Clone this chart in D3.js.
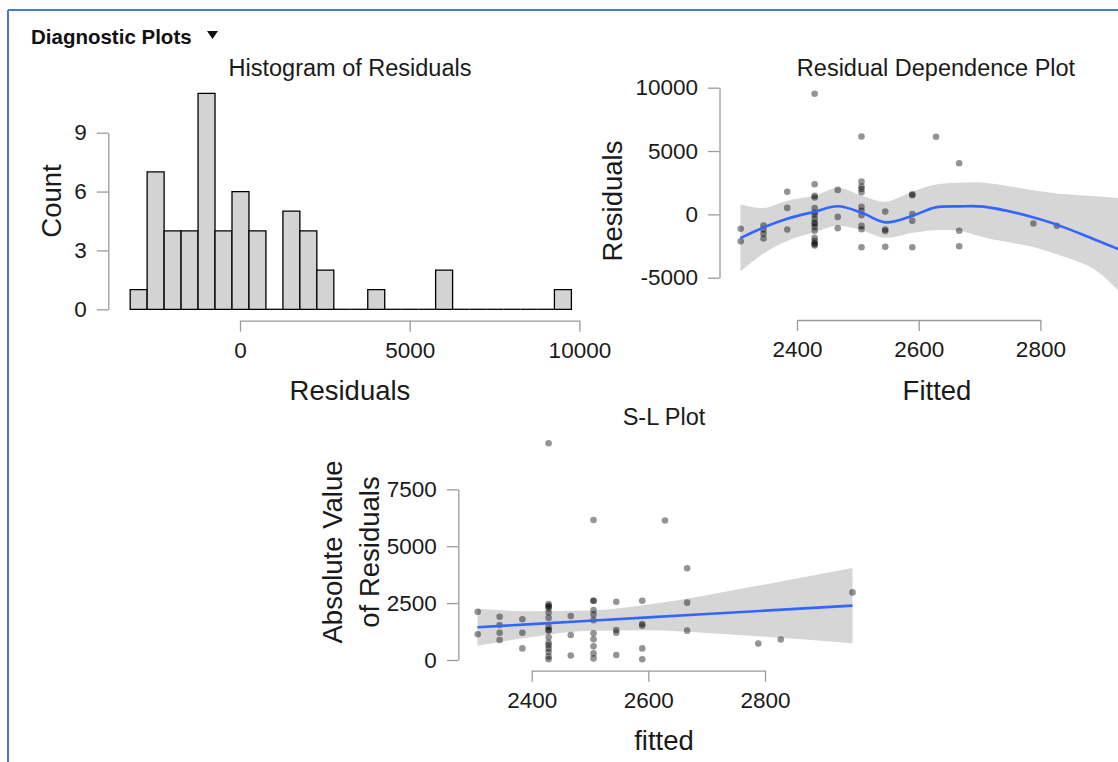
<!DOCTYPE html>
<html><head><meta charset="utf-8">
<script src="https://cdn.jsdelivr.net/npm/d3@7"></script>
<style>
body{margin:0;background:#fff;}
svg{display:block;font-family:"Liberation Sans",Arial,sans-serif;}
</style>
</head><body>
<svg id="chart" width="1118" height="762"></svg>
<script>
// ---------- DATA ----------
const headerText = "Diagnostic Plots";
const histTitle = "Histogram of Residuals";
const rdpTitle = "Residual Dependence Plot";
const slTitle = "S-L Plot";

// histogram (bins of width 500 starting at -3236)
const histBinStart = -3236;
const histBinWidth = 500;
const histCounts = [1,7,4,4,11,4,6,4,0,5,4,2,0,0,1,0,0,0,2,0,0,0,0,0,0,1];
const histXTicks = [0, 5000, 10000];
const histYTicks = [0, 3, 6, 9];

// points: fitted value and residual
const fittedValues = [
  2307.5,2307.5,
  2345,2345,2345,2345,
  2384,2384,2384,
  2429,2429,2429,2429,2429,2429,2429,2429,2429,2429,2429,2429,2429,2429,2429,2429,2429,
  2467,2467,2467,
  2506,2506,2506,2506,2506,2506,2506,2506,2506,2506,2506,
  2545,2545,2545,2545,
  2589.5,2589.5,2589.5,2589.5,2589.5,
  2628.5,
  2666.5,2666.5,2666.5,
  2788.5,
  2827,
  2950
];
const residualValues = [
  -2120,-1130,
  -880,-1200,-1540,-1900,
  1790,510,-1200,
  9520,2380,1460,1330,500,150,-30,-350,-650,-760,-1000,-1290,-1850,-2090,-2270,-2350,-2460,
  1930,-1100,-200,
  6150,2600,-2600,2200,2000,1750,600,290,-70,-910,-1170,
  -2560,-1320,-1200,220,
  1580,1510,-2600,-510,30,
  6130,
  4030,-1290,-2520,
  -720,
  -900,
  -2970
];

// residual dependence: loess smooth and its band
const rdpSmoothX  = [2307,2345,2384,2429,2467,2506,2545,2590,2628,2667,2706,2789,2827,2887,2928,2950];
const rdpSmoothY  = [-1870,-1030,-340,210,640,140,-630,-100,550,630,610,-240,-810,-1940,-2730,-3150];
const rdpSmoothHi = [770,500,1080,1480,2100,1480,1000,1800,2350,2500,2500,1900,1650,1450,1300,1250];
const rdpSmoothLo = [-4500,-3100,-2100,-1400,-900,-1250,-1850,-1450,-1250,-1300,-1800,-2600,-3150,-4300,-6000,-7000];
const rdpXTicks = [2400, 2600, 2800];
const rdpYTicks = [-5000, 0, 5000, 10000];

// S-L plot: linear fit and band
const slFitX  = [2307,2400,2500,2600,2700,2800,2950];
const slFitY  = [1440,1577,1725,1873,2021,2168,2390];
const slFitHi = [2250,2140,2170,2440,2850,3320,4040];
const slFitLo = [630,1010,1280,1310,1190,1020,740];
const slXTicks = [2400, 2600, 2800];
const slYTicks = [0, 2500, 5000, 7500];

// ---------- STYLE ----------
const AXIS_COLOR = "#9a9a9a";
const TEXT_COLOR = "#1a1a1a";
const TICK_FONT = 22.5;
const TITLE_FONT = 23.5;
const LABEL_FONT = 27.5;
const BLUE = "#3366FF";
const BAND = "#d6d6d6";
const plainFmt = d => String(d);

const svg = d3.select("#chart");

// frame
svg.append("line").attr("x1",8).attr("x2",1118).attr("y1",10).attr("y2",10)
  .attr("stroke","#4a78cc").attr("stroke-width",2);
svg.append("line").attr("x1",8).attr("x2",8).attr("y1",10).attr("y2",762)
  .attr("stroke","#4a78cc").attr("stroke-width",2);
svg.append("text").attr("x",31).attr("y",44).attr("font-weight","bold")
  .attr("font-size",20.5).attr("fill","#111").text(headerText);
svg.append("path").attr("d","M207,31 L218,31 L212.5,39 Z").attr("fill","#111");

function styleAxis(g){
  g.selectAll(".domain").attr("stroke",AXIS_COLOR).attr("stroke-width",1.3);
  g.selectAll(".tick line").attr("stroke",AXIS_COLOR).attr("stroke-width",1.3);
  g.selectAll(".tick text").attr("fill",TEXT_COLOR).attr("font-size",TICK_FONT)
    .attr("font-family","'Liberation Sans',Arial,sans-serif");
}
function drawXAxis(scale, ticks, y){
  const g = svg.append("g").attr("transform",`translate(0,${y})`)
    .call(d3.axisBottom(scale).tickValues(ticks).tickSize(11).tickSizeOuter(0).tickPadding(10).tickFormat(plainFmt));
  styleAxis(g);
  g.selectAll(".tick text").attr("dy","0.71em");
  return g;
}
function drawYAxis(scale, ticks, x){
  const g = svg.append("g").attr("transform",`translate(${x},0)`)
    .call(d3.axisLeft(scale).tickValues(ticks).tickSize(11.5).tickSizeOuter(0).tickPadding(10).tickFormat(plainFmt));
  styleAxis(g);
  return g;
}
function title(x,y,t,size){
  svg.append("text").attr("x",x).attr("y",y).attr("text-anchor","middle")
    .attr("font-size",size).attr("fill",TEXT_COLOR).text(t);
}
function vtitle(x,y,t,size){
  svg.append("text").attr("transform",`translate(${x},${y}) rotate(-90)`)
    .attr("text-anchor","middle").attr("font-size",size).attr("fill",TEXT_COLOR).text(t);
}

// ---------- HISTOGRAM ----------
const hx = d3.scaleLinear().domain([0,10000]).range([240,579.4]);
const hy = d3.scaleLinear().domain([0,9]).range([309.3,132.7]);
const bins = histCounts.map((c,i)=>({x0:histBinStart+i*histBinWidth, x1:histBinStart+(i+1)*histBinWidth, c}));
const hg = svg.append("g");
hg.selectAll("path").data(bins).join("path")
  .attr("d",d=>{
    const x0=hx(d.x0), x1=hx(d.x1), yt=hy(d.c), yb=hy(0);
    return d.c>0 ? `M${x0},${yb}V${yt}H${x1}V${yb}Z` : `M${x0},${yb}H${x1}`;
  })
  .attr("fill","#d3d3d3").attr("stroke","#000").attr("stroke-width",1.3);
drawXAxis(hx, histXTicks, 320.7);
drawYAxis(hy, histYTicks, 108.3);
title(350,76,histTitle,TITLE_FONT);
title(350,400,"Residuals",LABEL_FONT);
vtitle(61,201,"Count",LABEL_FONT);

// ---------- RESIDUAL DEPENDENCE ----------
const rx = d3.scaleLinear().domain([2400,2800]).range([797,1040.4]);
const ry = d3.scaleLinear().domain([-5000,10000]).range([277.7,87.7]);
const rdpBand = rdpSmoothX.map((x,i)=>({x, lo:rdpSmoothLo[i], hi:rdpSmoothHi[i], y:rdpSmoothY[i]}));
svg.append("path").datum(rdpBand)
  .attr("d",d3.area().x(d=>rx(d.x)).y0(d=>ry(d.lo)).y1(d=>ry(d.hi)).curve(d3.curveCatmullRom.alpha(0.5)))
  .attr("fill",BAND);
const pts = fittedValues.map((f,i)=>({f, r:residualValues[i]}));
svg.append("g").selectAll("circle").data(pts).join("circle")
  .attr("cx",d=>rx(d.f)).attr("cy",d=>ry(d.r)).attr("r",3.3)
  .attr("fill","#000").attr("fill-opacity",0.42);
svg.append("path").datum(rdpBand)
  .attr("d",d3.line().x(d=>rx(d.x)).y(d=>ry(d.y)).curve(d3.curveCatmullRom.alpha(0.5)))
  .attr("fill","none").attr("stroke",BLUE).attr("stroke-width",2.6);
drawXAxis(rx, rdpXTicks, 320);
drawYAxis(ry, rdpYTicks, 719.5);
title(936,76,rdpTitle,TITLE_FONT);
title(937,400,"Fitted",LABEL_FONT);
vtitle(622,201,"Residuals",LABEL_FONT);

// ---------- S-L PLOT ----------
const sx = d3.scaleLinear().domain([2400,2800]).range([531.7,765]);
const sy = d3.scaleLinear().domain([0,7500]).range([660,489.3]);
const slBand = slFitX.map((x,i)=>({x, lo:slFitLo[i], hi:slFitHi[i], y:slFitY[i]}));
svg.append("path").datum(slBand)
  .attr("d",d3.area().x(d=>sx(d.x)).y0(d=>sy(d.lo)).y1(d=>sy(d.hi)).curve(d3.curveMonotoneX))
  .attr("fill",BAND);
svg.append("g").selectAll("circle").data(pts).join("circle")
  .attr("cx",d=>sx(d.f)).attr("cy",d=>sy(Math.abs(d.r))).attr("r",3.3)
  .attr("fill","#000").attr("fill-opacity",0.42);
svg.append("path").datum(slBand)
  .attr("d",d3.line().x(d=>sx(d.x)).y(d=>sy(d.y)))
  .attr("fill","none").attr("stroke",BLUE).attr("stroke-width",2.6);
drawXAxis(sx, slXTicks, 670.7);
drawYAxis(sy, slYTicks, 458.3);
title(664,425,slTitle,TITLE_FONT);
title(664,750,"fitted",LABEL_FONT);
vtitle(342,552,"Absolute Value",LABEL_FONT);
vtitle(379,552,"of Residuals",LABEL_FONT);
</script>
</body></html>
